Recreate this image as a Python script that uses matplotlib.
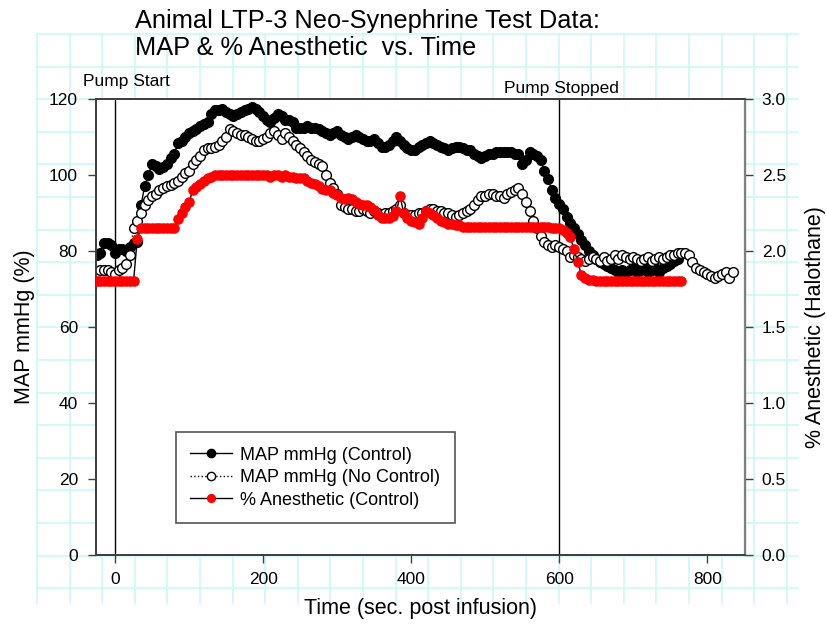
import numpy as np
import matplotlib
matplotlib.use("Agg")
import matplotlib.pyplot as plt
from matplotlib.lines import Line2D

plt.rcParams['font.family'] = ['Liberation Sans', 'DejaVu Sans']

# sampling: first time (s) and step (s) of each recorded series
sample_step = 5
black_start = -25
open_start = -20
red_start = -25

# MAP mmHg (Control)
black_map = [
    79, 79.5, 82, 82, 81.5, 79.5, 80.5, 80.5, 80, 81,
    82, 82.5, 92, 97, 100, 103, 102.5, 101.5, 102, 103,
    104.5, 105.5, 108.5, 109, 110, 111, 111.5, 112, 113, 113.5,
    114, 116, 117, 117, 117.5, 116.5, 116, 115.5, 116, 116.5,
    117, 117.5, 118, 117.5, 116.5, 115.5, 114.5, 114, 115, 116,
    115.5, 114.5, 114.5, 114, 112.5, 112.5, 112.5, 113, 112.5, 112.5,
    112, 111.5, 111, 110.5, 111, 111.5, 110.5, 110, 109.5, 110,
    110.5, 110, 109.5, 109, 109, 109.5, 108.5, 107.5, 107.5, 108,
    109, 110, 109, 108, 107, 106.5, 106.5, 107.5, 108, 108.5,
    109, 108.5, 108, 107.5, 107, 106.5, 107, 107.5, 107.5, 107,
    106.5, 106.5, 105.5, 105, 104.5, 105, 105.5, 105.5, 106, 106,
    106, 106, 106, 105.5, 105.5, 103, 104, 106, 105.5, 105,
    104, 101, 99, 96, 94, 92.5, 91, 89, 87.5, 86,
    84.5, 83, 81.5, 80, 79, 78, 77, 76.5, 76, 75.5,
    75, 74.5, 75, 74.5, 75, 75.5, 74.5, 75, 75.5, 74.5,
    75, 75.5, 74.5, 75.5, 76, 76.5, 77.5, 78,
]

# MAP mmHg (No Control)
open_map = [
    75, 75, 75, 74.5, 74, 75, 75.5, 76.5, 79, 86,
    88, 90, 92, 93.5, 94.5, 95, 96, 96.5, 97, 97.5,
    98, 98.5, 99.5, 100.5, 101, 103, 104, 105, 106.5, 107,
    107, 107.5, 108, 109, 110, 112, 111.5, 111, 110.5, 110.5,
    110, 109.5, 109, 109, 109.5, 110, 111, 111.5, 110.5, 109.5,
    111, 110, 109, 108, 107, 106, 105, 104, 103.5, 103,
    102.5, 100, 98, 96.5, 95, 92, 91.5, 91, 91, 90.5,
    90.5, 91, 90.5, 90, 90.5, 90, 89.5, 90, 90, 90.5,
    91, 92, 90, 89.5, 89.5, 89.5, 90, 90, 90.5, 91,
    91, 90.5, 90.5, 90, 90, 89.5, 89, 89.5, 90, 90.5,
    91, 92, 93.5, 94.5, 94.5, 95, 95, 94.5, 94.5, 94,
    95, 95.5, 96, 96.5, 95, 93, 90.5, 88, 86, 84,
    82.5, 81.5, 81, 81.5, 81, 80.5, 80, 78.5, 79, 78.5,
    78, 77.5, 78, 78.5, 78, 77.5, 78.5, 77.5, 78, 79,
    78, 79, 78.5, 78, 78.5, 78, 77.5, 78, 78.5, 77.5,
    78, 78.5, 78, 78.5, 79, 79, 79.5, 79.5, 79.5, 79,
    77, 75.5, 75, 74.5, 74, 73.5, 73, 73.5, 74, 74.5,
    73, 74.5,
]

# % Anesthetic (Control)
red_pct = [
    1.80, 1.80, 1.80, 1.80, 1.80, 1.80, 1.80, 1.80, 1.80, 1.80,
    1.80, 2.08, 2.15, 2.15, 2.15, 2.15, 2.15, 2.15, 2.15, 2.15,
    2.15, 2.15, 2.21, 2.25, 2.29, 2.32, 2.40, 2.42, 2.44, 2.46,
    2.48, 2.49, 2.50, 2.50, 2.50, 2.50, 2.50, 2.50, 2.50, 2.50,
    2.50, 2.50, 2.50, 2.50, 2.50, 2.50, 2.50, 2.49, 2.50, 2.50,
    2.49, 2.50, 2.49, 2.49, 2.48, 2.48, 2.48, 2.46, 2.45, 2.44,
    2.43, 2.41, 2.40, 2.40, 2.38, 2.37, 2.35, 2.34, 2.35, 2.34,
    2.32, 2.31, 2.30, 2.30, 2.29, 2.27, 2.24, 2.22, 2.22, 2.22,
    2.23, 2.26, 2.36, 2.25, 2.22, 2.20, 2.19, 2.18, 2.22, 2.26,
    2.25, 2.24, 2.22, 2.20, 2.19, 2.18, 2.18, 2.17, 2.17, 2.16,
    2.16, 2.16, 2.16, 2.16, 2.16, 2.16, 2.16, 2.16, 2.16, 2.16,
    2.16, 2.16, 2.16, 2.16, 2.16, 2.16, 2.16, 2.16, 2.16, 2.16,
    2.16, 2.16, 2.16, 2.15, 2.15, 2.15, 2.14, 2.12, 2.09, 2.01,
    1.93, 1.84, 1.82, 1.81, 1.81, 1.80, 1.80, 1.80, 1.80, 1.80,
    1.80, 1.80, 1.80, 1.80, 1.80, 1.80, 1.80, 1.80, 1.80, 1.80,
    1.80, 1.80, 1.80, 1.80, 1.80, 1.80, 1.80, 1.80, 1.80,
]

black_t = black_start + sample_step * np.arange(len(black_map))
open_t = open_start + sample_step * np.arange(len(open_map))
red_t = red_start + sample_step * np.arange(len(red_pct))

pump_events = [0, 600]
pump_labels = ['Pump Start', 'Pump Stopped']

W, H = 827, 635
fig = plt.figure(figsize=(W / 100, H / 100), dpi=100)

# page grid (cyan graph paper behind the plot)
grid_col = '#ccf8f8'
gx = np.arange(37, 790, 32.6)
gy = np.arange(34, 590, 32.6)
for x in gx:
    fig.add_artist(Line2D([x / W, x / W], [1 - 34 / H, 1 - 603 / H],
                          color=grid_col, lw=1.2, zorder=-5))
for y in gy:
    fig.add_artist(Line2D([37 / W, 798 / W], [1 - y / H, 1 - y / H],
                          color=grid_col, lw=1.2, zorder=-5))

ax = fig.add_axes([96 / W, 1 - 555 / H, (745 - 96) / W, (555 - 99) / H])
ax.set_xlim(-25.7, 851)
ax.set_ylim(0, 120)
ax2 = ax.twinx()
ax2.set_ylim(0, 3.0)

for xv in pump_events:
    ax.axvline(xv, color='black', lw=1, zorder=1)

h1, = ax.plot(black_t, black_map, '-', color='black', lw=1,
              marker='o', ms=7, mfc='black', mec='black', zorder=3,
              label='MAP mmHg (Control)')
h2, = ax.plot(open_t, open_map, ':', color='black', lw=1,
              marker='o', ms=7, mfc='white', mec='black', mew=1, zorder=4,
              label='MAP mmHg (No Control)')
h3, = ax2.plot(red_t, red_pct, '-', color='black', lw=1,
               marker='o', ms=6.6, mfc='red', mec='red', zorder=3,
               label='% Anesthetic (Control)')

ax.set_xticks([0, 200, 400, 600, 800])
ax.set_yticks(range(0, 121, 20))
ax2.set_yticks([0, 0.5, 1.0, 1.5, 2.0, 2.5, 3.0])
ax2.set_yticklabels(['%.1f' % v for v in [0, 0.5, 1.0, 1.5, 2.0, 2.5, 3.0]])

for a in (ax, ax2):
    a.tick_params(direction='out', length=6, width=1, labelsize=12.5,
                  color='#404040')
ax.tick_params(axis='y', pad=7)
ax.tick_params(axis='x', pad=6)
ax2.tick_params(axis='y', pad=6)
for s in ['left', 'bottom', 'top']:
    ax.spines[s].set_color('#404040')
    ax.spines[s].set_linewidth(1.3)
    ax2.spines[s].set_color('#404040')
    ax2.spines[s].set_linewidth(1.3)
ax2.spines['right'].set_color('#808080')
ax2.spines['right'].set_linewidth(1.6)

ax.set_xlabel('Time (sec. post infusion)', fontsize=15.5, labelpad=8)
ax.set_ylabel('MAP mmHg (%)', fontsize=15.5, labelpad=10)
ax2.set_ylabel('% Anesthetic (Halothane)', fontsize=15.5, labelpad=14)

ax.text(15, 123.4, pump_labels[0], ha='center', va='baseline',
        fontsize=12.5, clip_on=False)
ax.text(603, 121.6, pump_labels[1], ha='center', va='baseline',
        fontsize=12.5, clip_on=False)

fig.text(135 / W, 1 - 28 / H, 'Animal LTP-3 Neo-Synephrine Test Data:',
         fontsize=18.3, va='baseline', ha='left')
fig.text(135 / W, 1 - 55 / H, 'MAP & % Anesthetic  vs. Time',
         fontsize=18.3, va='baseline', ha='left')

leg = ax2.legend(handles=[h1, h2, h3], loc='lower left',
                 bbox_to_anchor=(176 / W, 1 - 523 / H),
                 bbox_transform=fig.transFigure, borderaxespad=0,
                 fontsize=13, frameon=True, fancybox=False, framealpha=1,
                 edgecolor='#555555', handlelength=2.3, handletextpad=0.45,
                 labelspacing=0.3, borderpad=0.8, markerscale=0.85)
leg.get_frame().set_linewidth(1.2)

fig.savefig('out.png', dpi=100)
